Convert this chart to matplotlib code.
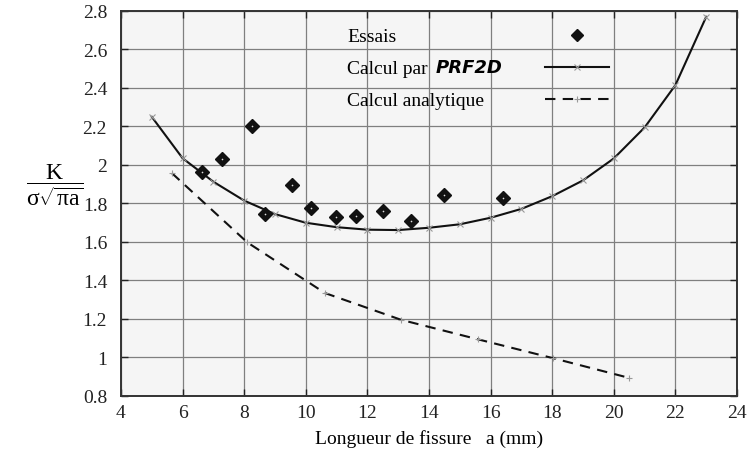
import matplotlib
matplotlib.use("Agg")
import matplotlib.pyplot as plt
from matplotlib.ticker import MultipleLocator, FuncFormatter
from matplotlib.lines import Line2D

# ---- data ----
prf_a = [5, 6, 7, 8, 9, 10, 11, 12, 13, 14, 15, 16, 17, 18, 19, 20, 21, 22, 23]
prf_k = [2.25, 2.035, 1.913, 1.815, 1.745, 1.700, 1.677, 1.664, 1.662, 1.674,
         1.692, 1.726, 1.772, 1.838, 1.920, 2.034, 2.195, 2.415, 2.770]

essais_a = [6.64, 7.27, 8.26, 8.68, 9.56, 10.17, 10.97, 11.63, 12.52, 13.41, 14.49, 16.39]
essais_k = [1.965, 2.031, 2.201, 1.745, 1.896, 1.777, 1.728, 1.737, 1.759, 1.708, 1.844, 1.829]

ana_a = [5.65, 8.1, 10.62, 13.09, 15.6, 18.04, 20.5]
ana_k = [1.958, 1.598, 1.335, 1.196, 1.094, 0.996, 0.894]

labels = ["Essais", "Calcul par ", "Calcul analytique"]
prf_name = "PRF2D"
xlabel = "Longueur de fissure   a (mm)"
ylabel = r"$\dfrac{\mathrm{K}}{\mathrm{σ}\sqrt{\mathrm{πa}}}$"

plt.rcParams['font.family'] = ['Liberation Serif', 'DejaVu Serif']
plt.rcParams['mathtext.fontset'] = 'custom'
plt.rcParams['mathtext.rm'] = 'Liberation Serif'
plt.rcParams['mathtext.it'] = 'Liberation Serif:italic'

fig = plt.figure(figsize=(7.48, 4.52), dpi=100)
ax = fig.add_axes([121/748, 1-397/452, (737-121)/748, (397-12)/452])
ax.set_facecolor('#f5f5f5')

ax.set_xlim(4, 24)
ax.set_ylim(0.8, 2.8)
ax.xaxis.set_major_locator(MultipleLocator(2))
ax.yaxis.set_major_locator(MultipleLocator(0.2))
ax.yaxis.set_major_formatter(FuncFormatter(lambda v, p: "%g" % round(v, 2)))
ax.xaxis.set_major_formatter(FuncFormatter(lambda v, p: "%g" % round(v, 2)))
ax.grid(True, color='#7f7f7f', linewidth=0.9)
ax.set_axisbelow(True)
ax.tick_params(direction='in', length=5, width=1.0, top=True, right=True,
               labelsize=14, colors='#222222', pad=6)
ax.tick_params(axis='y', pad=10)
for s in ax.spines.values():
    s.set_color('#333333')
    s.set_linewidth(1.4)

# series
ax.plot(prf_a, prf_k, color='#111111', linewidth=1.5, zorder=3)
ax.plot(prf_a, prf_k, linestyle='none', marker='x', markersize=4.5,
        markeredgewidth=0.8, color='#999999', zorder=4)
ax.plot(ana_a, ana_k, color='#111111', linewidth=1.5, linestyle=(0, (5, 3.5)), zorder=3)
ax.plot(ana_a, ana_k, linestyle='none', marker='+', markersize=5,
        markeredgewidth=0.8, color='#999999', zorder=4)
ax.plot(essais_a, essais_k, linestyle='none', marker='D', markersize=7,
        color='#111111', zorder=5)
ax.plot(essais_a, essais_k, linestyle='none', marker='o', markersize=1.2,
        color='#dddddd', markeredgewidth=0, zorder=6)

# legend: texts
fs = 14
txts = []
for lab, yy in zip(labels, [38, 70, 102]):
    t = ax.text(347/100, (452-yy)/100, lab, transform=fig.dpi_scale_trans,
                fontsize=fs, va='center', ha='left')
    txts.append(t)
ax.annotate(prf_name, xy=(1, 0.5), xycoords=txts[1], xytext=(2, 1.5), textcoords='offset points',
            fontsize=13, fontweight='bold', fontstyle='italic',
            family=['DejaVu Sans'], va='center', ha='left')

# legend: handles only
h1 = Line2D([], [], linestyle='none', marker='D', markersize=6, color='#111111')
h2 = Line2D([], [], color='#111111', linewidth=1.5, marker='x', markersize=4.5,
            markeredgecolor='#999999', markeredgewidth=0.8)
h3 = Line2D([], [], color='#111111', linewidth=1.5, linestyle=(0, (5, 3.5)), marker='+',
            markersize=5, markeredgecolor='#999999', markeredgewidth=0.8)
leg = ax.legend([h1, h2, h3], ['', '', ''], frameon=False, handlelength=3.3,
                handletextpad=0, labelspacing=0.75, fontsize=fs,
                loc='center', bbox_to_anchor=(577/748, 1-70/452),
                bbox_transform=fig.transFigure, borderpad=0, borderaxespad=0)

ax.set_xlabel(xlabel, fontsize=14, labelpad=0)
ax.xaxis.set_label_coords(0.5, -0.085)
ax.set_ylabel(ylabel, rotation=0, fontsize=17)
ax.yaxis.set_label_coords((55-121)/616, (397-185)/385)
ax.yaxis.label.set_va('center')
ax.yaxis.label.set_ha('center')

fig.savefig('out.png', dpi=100)
